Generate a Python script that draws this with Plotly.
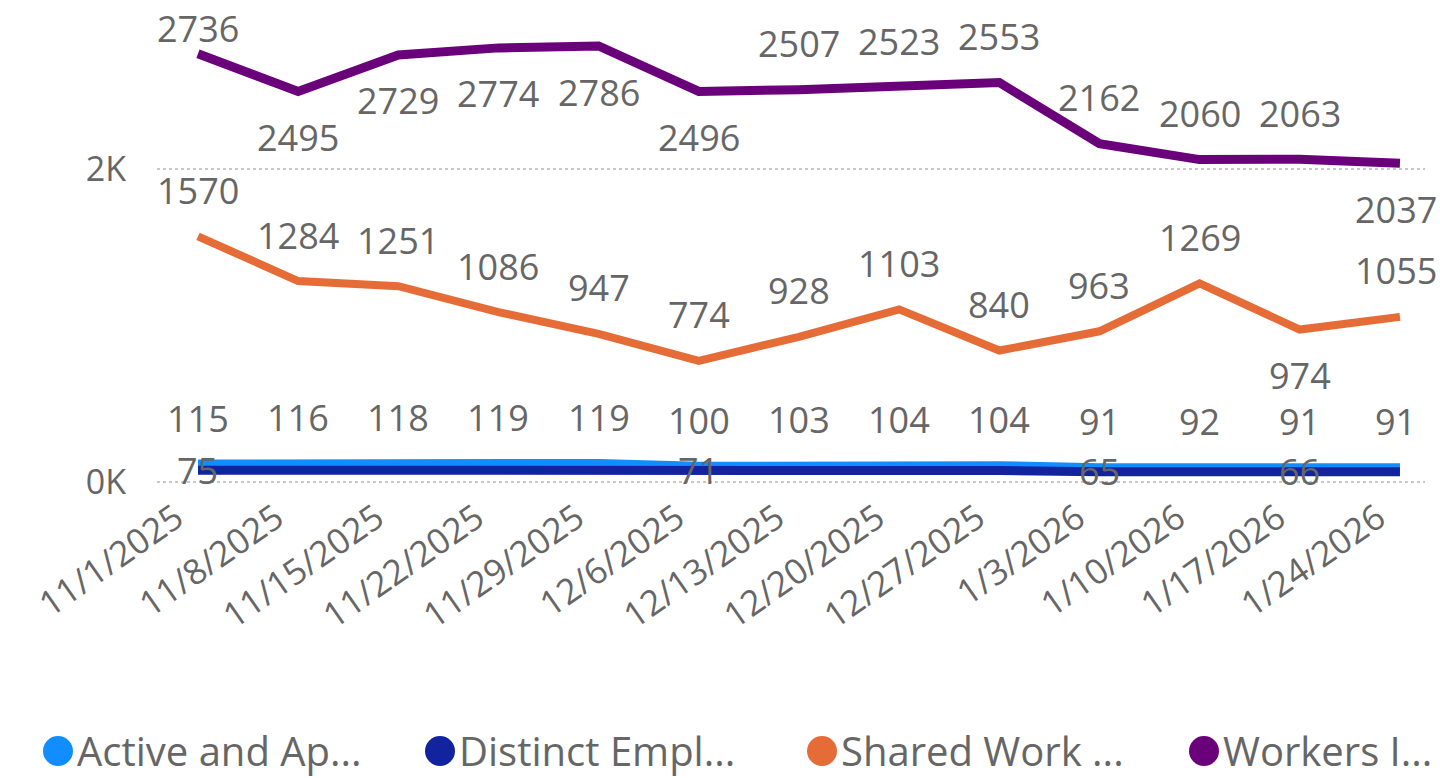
import plotly.graph_objects as go

# ---------------- data ----------------
dates = ["11/1/2025", "11/8/2025", "11/15/2025", "11/22/2025", "11/29/2025",
         "12/6/2025", "12/13/2025", "12/20/2025", "12/27/2025", "1/3/2026",
         "1/10/2026", "1/17/2026", "1/24/2026"]

active = [115, 116, 118, 119, 119, 100, 103, 104, 104, 91, 92, 91, 91]
distinct = [75, 76, 77, 77, 77, 71, 73, 74, 74, 65, 66, 66, 65]
shared = [1570, 1284, 1251, 1086, 947, 774, 928, 1103, 840, 963, 1269, 974, 1055]
workers = [2736, 2495, 2729, 2774, 2786, 2496, 2507, 2523, 2553, 2162, 2060, 2063, 2037]

series_names = ["Active and Ap...", "Distinct Empl...", "Shared Work ...", "Workers I..."]
ytick_vals = [0, 2000]
ytick_text = ["0K", "2K"]

# ---------------- style ----------------
colors = ["#118DFF", "#12239E", "#E66C37", "#6B007B"]
widths = [9, 9, 8, 9]
label_color = "#666666"
FONT = "Segoe UI, Open Sans, sans-serif"

# label placement (pixel shifts of the data labels, style only)
UP, DN = 46, -46
workers_shift = [25, DN, DN, DN, DN, DN, UP, UP, UP, UP, UP, UP, DN]
shared_shift = [UP] * 11 + [DN, UP]
active_shift = [UP] * 13
distinct_show = [True, False, False, False, False, True, False, False, False, True, False, True, False]
edge_xshift = [0] * 12 + [-4]

W, H = 1440, 778
ML, MR, MT, MB = 157, 15, 5, 288
PW = W - ML - MR
PH = H - MT - MB

x = list(range(len(dates)))

fig = go.Figure()
all_series = [active, distinct, shared, workers]
for vals, name, col, lw in zip(all_series, series_names, colors, widths):
    fig.add_trace(go.Scatter(
        x=x, y=vals, name=name, mode="lines",
        line=dict(color=col, width=lw, shape="linear"),
        showlegend=False, cliponaxis=False,
    ))

annotations = []

def add_labels(vals, shifts, show=None):
    for i, v in enumerate(vals):
        if show is not None and not show[i]:
            continue
        annotations.append(dict(
            x=x[i], y=v, xref="x", yref="y", text=str(v), showarrow=False,
            yshift=shifts[i] if shifts else 0, xshift=edge_xshift[i],
            xanchor="center", yanchor="middle",
            font=dict(family=FONT, size=36, color=label_color),
        ))

add_labels(active, active_shift)
add_labels(distinct, None, distinct_show)
add_labels(shared, shared_shift)
add_labels(workers, workers_shift)

# manual legend (large circle markers like the original)
legend_cx = [58, 440, 822, 1204]
legend_cy = 751
shapes = []
for cx, col, name in zip(legend_cx, colors, series_names):
    px = (cx - ML) / PW
    py = (H - MB - legend_cy) / PH
    shapes.append(dict(
        type="circle", xref="paper", yref="paper",
        xsizemode="pixel", ysizemode="pixel",
        xanchor=px, yanchor=py, x0=-15, x1=15, y0=-15, y1=15,
        fillcolor=col, line=dict(width=0),
    ))
    annotations.append(dict(
        x=(cx + 17 - ML) / PW, y=py, xref="paper", yref="paper",
        text=name, showarrow=False, xanchor="left", yanchor="middle",
        font=dict(family=FONT, size=40, color=label_color),
    ))

fig.update_layout(
    width=W, height=H,
    margin=dict(l=ML, r=MR, t=MT, b=MB),
    paper_bgcolor="white", plot_bgcolor="white",
    showlegend=False,
    annotations=annotations, shapes=shapes,
    xaxis=dict(
        range=[-0.409, 12.25], tickmode="array", tickvals=x, ticktext=dates,
        tickangle=-35, showgrid=False, zeroline=False, showline=False,
        ticks="", ticklabelshift=-22,
        tickfont=dict(family=FONT, size=35, color=label_color),
        fixedrange=True,
    ),
    yaxis=dict(
        range=[-51.1, 3048], tickmode="array", tickvals=ytick_vals, ticktext=ytick_text,
        showgrid=True, gridcolor="#C8C8C8", gridwidth=2, griddash="dot",
        zeroline=False, showline=False, ticks="", ticklabelstandoff=30,
        tickfont=dict(family=FONT, size=34, color=label_color),
        fixedrange=True,
    ),
)

fig.write_html("out.html", config={"displayModeBar": False},
               post_script="document.body.style.margin='0px';")
